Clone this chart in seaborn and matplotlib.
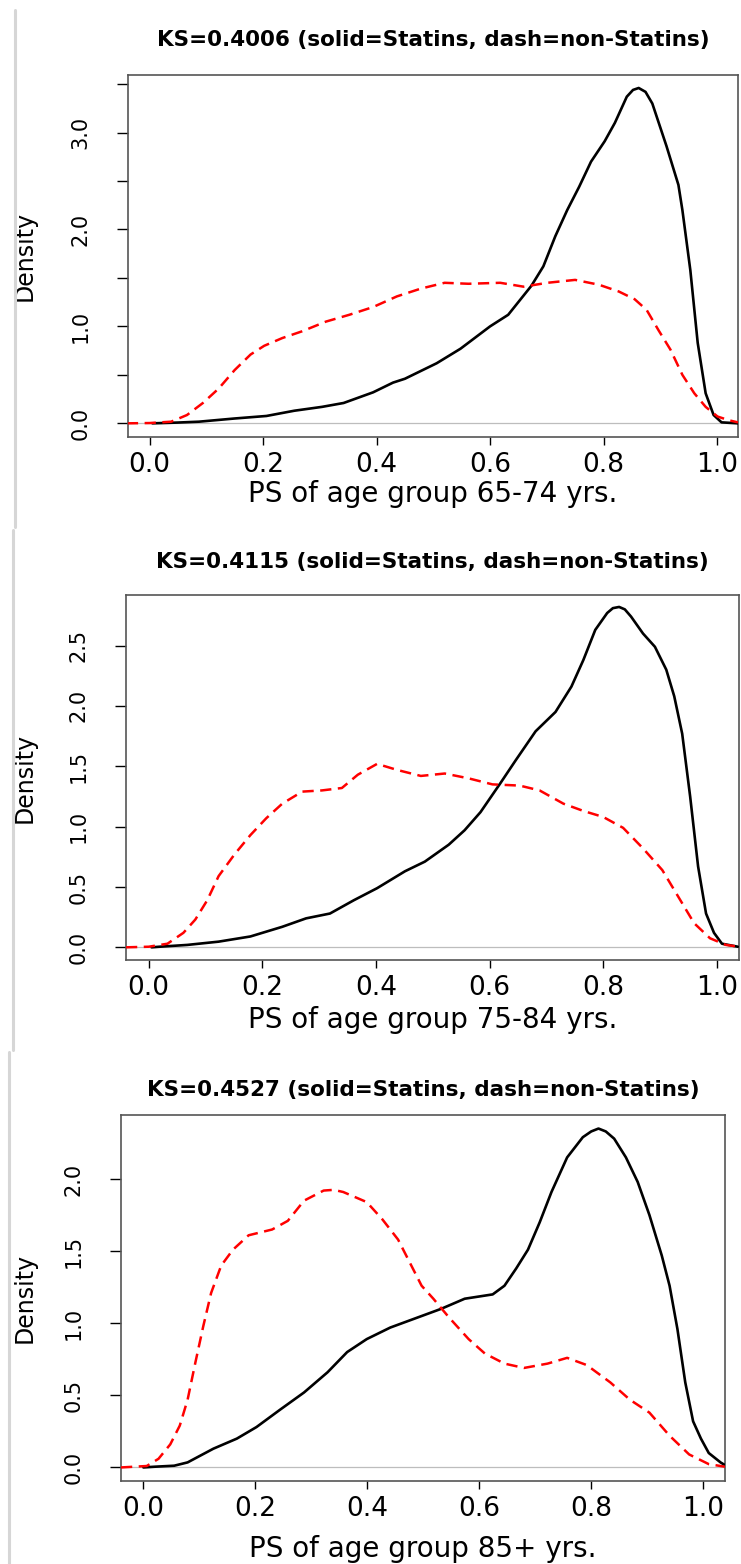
import matplotlib
matplotlib.use("Agg")
import matplotlib.pyplot as plt
import pandas as pd
import seaborn as sns
from matplotlib.lines import Line2D

# ---- text ----
titles = ["KS=0.4006 (solid=Statins, dash=non-Statins)",
          "KS=0.4115 (solid=Statins, dash=non-Statins)",
          "KS=0.4527 (solid=Statins, dash=non-Statins)"]
xlabels = ["PS of age group 65-74 yrs.",
           "PS of age group 75-84 yrs.",
           "PS of age group 85+ yrs."]
x_ticks = [0.0, 0.2, 0.4, 0.6, 0.8, 1.0]
x_ticklabels = ["0.0", "0.2", "0.4", "0.6", "0.8", "1.0"]
y_ticks_1 = [0.0, 0.5, 1.0, 1.5, 2.0, 2.5, 3.0, 3.5]
y_ticklabels_1 = ["0.0", "", "1.0", "", "2.0", "", "3.0", ""]
y_ticks_2 = [0.0, 0.5, 1.0, 1.5, 2.0, 2.5]
y_ticklabels_2 = ["0.0", "0.5", "1.0", "1.5", "2.0", "2.5"]
y_ticks_3 = [0.0, 0.5, 1.0, 1.5, 2.0]
y_ticklabels_3 = ["0.0", "0.5", "1.0", "1.5", "2.0"]

# ---- panel 1: 65-74 ----
stat1_x = [0.005, 0.05, 0.087, 0.15, 0.206, 0.255, 0.304, 0.342, 0.394, 0.429, 0.45, 0.464,
           0.506, 0.548, 0.600, 0.632, 0.673, 0.694, 0.715, 0.736, 0.757, 0.778, 0.802,
           0.820, 0.841, 0.852, 0.862, 0.874, 0.886, 0.911, 0.932, 0.939, 0.953, 0.966,
           0.980, 0.994, 1.008, 1.037]
stat1_y = [0.0, 0.008, 0.017, 0.05, 0.076, 0.13, 0.17, 0.21, 0.32, 0.42, 0.46, 0.50,
           0.62, 0.77, 1.0, 1.12, 1.42, 1.62, 1.93, 2.20, 2.44, 2.70, 2.91,
           3.10, 3.37, 3.44, 3.46, 3.42, 3.30, 2.86, 2.46, 2.20, 1.58, 0.83,
           0.31, 0.086, 0.01, 0.0]
non1_x = [-0.04, 0.0, 0.038, 0.066, 0.094, 0.122, 0.150, 0.178, 0.202, 0.234, 0.269, 0.311,
          0.352, 0.394, 0.436, 0.478, 0.520, 0.562, 0.618, 0.659, 0.701, 0.750, 0.792,
          0.827, 0.855, 0.876, 0.897, 0.918, 0.939, 0.960, 0.980, 1.001, 1.022, 1.037]
non1_y = [0.0, 0.003, 0.017, 0.086, 0.21, 0.36, 0.55, 0.71, 0.80, 0.88, 0.95, 1.05,
          1.12, 1.20, 1.31, 1.39, 1.45, 1.44, 1.45, 1.41, 1.45, 1.48, 1.43,
          1.36, 1.28, 1.17, 0.96, 0.76, 0.50, 0.31, 0.17, 0.07, 0.03, 0.01]

# ---- panel 2: 75-84 ----
stat2_x = [0.005, 0.019, 0.068, 0.123, 0.179, 0.235, 0.277, 0.319, 0.361, 0.402, 0.451,
           0.486, 0.528, 0.556, 0.584, 0.619, 0.646, 0.681, 0.716, 0.744, 0.765, 0.786,
           0.807, 0.817, 0.828, 0.838, 0.849, 0.870, 0.891, 0.911, 0.925, 0.939, 0.953,
           0.967, 0.981, 0.995, 1.009, 1.037]
stat2_y = [0.0, 0.005, 0.02, 0.047, 0.09, 0.17, 0.24, 0.28, 0.39, 0.49, 0.63,
           0.71, 0.85, 0.97, 1.12, 1.36, 1.55, 1.79, 1.95, 2.16, 2.38, 2.63,
           2.77, 2.81, 2.82, 2.80, 2.74, 2.60, 2.49, 2.30, 2.08, 1.77, 1.25,
           0.67, 0.28, 0.12, 0.03, 0.005]
non2_x = [-0.04, 0.0, 0.033, 0.061, 0.082, 0.103, 0.123, 0.151, 0.179, 0.207, 0.235, 0.270,
          0.305, 0.340, 0.368, 0.402, 0.437, 0.479, 0.521, 0.563, 0.605, 0.653, 0.688,
          0.730, 0.765, 0.800, 0.835, 0.870, 0.904, 0.932, 0.960, 0.988, 1.016, 1.039]
non2_y = [0.0, 0.005, 0.03, 0.12, 0.23, 0.39, 0.59, 0.77, 0.93, 1.07, 1.19, 1.29,
          1.30, 1.32, 1.43, 1.52, 1.47, 1.42, 1.44, 1.40, 1.35, 1.34, 1.30,
          1.19, 1.13, 1.08, 0.99, 0.82, 0.64, 0.42, 0.20, 0.075, 0.02, 0.005]

# ---- panel 3: 85+ ----
stat3_x = [0.0, 0.020, 0.055, 0.079, 0.125, 0.167, 0.202, 0.244, 0.287, 0.329, 0.364,
           0.399, 0.441, 0.483, 0.532, 0.574, 0.624, 0.645, 0.666, 0.687, 0.708, 0.729,
           0.757, 0.785, 0.800, 0.813, 0.826, 0.841, 0.862, 0.883, 0.904, 0.926, 0.940,
           0.954, 0.968, 0.982, 0.996, 1.010, 1.031, 1.039]
stat3_y = [0.0, 0.005, 0.012, 0.035, 0.13, 0.20, 0.28, 0.40, 0.52, 0.66, 0.80,
           0.89, 0.97, 1.03, 1.10, 1.17, 1.20, 1.26, 1.38, 1.51, 1.70, 1.91,
           2.15, 2.29, 2.33, 2.35, 2.33, 2.28, 2.15, 1.98, 1.75, 1.47, 1.26,
           0.96, 0.59, 0.32, 0.20, 0.10, 0.035, 0.016]
non3_x = [-0.04, 0.006, 0.027, 0.048, 0.065, 0.079, 0.093, 0.107, 0.121, 0.139, 0.160,
          0.188, 0.230, 0.258, 0.287, 0.322, 0.340, 0.357, 0.399, 0.427, 0.455, 0.476,
          0.497, 0.518, 0.546, 0.581, 0.610, 0.645, 0.680, 0.722, 0.757, 0.792, 0.834,
          0.869, 0.904, 0.940, 0.975, 1.010, 1.039]
non3_y = [0.0, 0.01, 0.06, 0.16, 0.29, 0.47, 0.73, 0.98, 1.21, 1.40, 1.51,
          1.61, 1.65, 1.71, 1.85, 1.92, 1.925, 1.91, 1.84, 1.72, 1.58, 1.42,
          1.26, 1.17, 1.04, 0.89, 0.79, 0.72, 0.69, 0.72, 0.76, 0.71, 0.59,
          0.47, 0.38, 0.22, 0.09, 0.023, 0.005]

sns.set_theme(style="ticks")
plt.rcParams["font.family"] = ["DejaVu Sans"]

W, H = 741, 1564
fig = plt.figure(figsize=(W / 100, H / 100), dpi=100, facecolor="white")


def rect(l, r, t, b):
    return [l / W, 1 - b / H, (r - l) / W, (b - t) / H]


# frame in pixels, limits, title y, xlabel offset
layout = [
    dict(box=(128, 738, 75, 437), xlim=(-0.038, 1.037), ylim=(-0.141, 3.594), ty=40, xl=-0.12),
    dict(box=(126, 739, 595, 960), xlim=(-0.040, 1.039), ylim=(-0.105, 2.919), ty=562, xl=-0.127),
    dict(box=(121, 725, 1115, 1481), xlim=(-0.040, 1.039), ylim=(-0.094, 2.444), ty=1090, xl=-0.147),
]
stat = [(stat1_x, stat1_y), (stat2_x, stat2_y), (stat3_x, stat3_y)]
non = [(non1_x, non1_y), (non2_x, non2_y), (non3_x, non3_y)]
yticks = [(y_ticks_1, y_ticklabels_1), (y_ticks_2, y_ticklabels_2), (y_ticks_3, y_ticklabels_3)]

for i in range(3):
    lay = layout[i]
    l, r, t, b = lay["box"]
    ax = fig.add_axes(rect(l, r, t, b))
    ax.axhline(0, color="#bdbdbd", lw=0.9, zorder=1)

    df_s = pd.DataFrame({"ps": stat[i][0], "density": stat[i][1]})
    df_n = pd.DataFrame({"ps": non[i][0], "density": non[i][1]})
    sns.lineplot(data=df_s, x="ps", y="density", ax=ax, color="black", lw=1.9,
                 estimator=None, sort=False, zorder=3)
    sns.lineplot(data=df_n, x="ps", y="density", ax=ax, color="#ff0000", lw=1.8,
                 estimator=None, sort=False, zorder=4)
    ax.lines[-1].set_dashes((4.5, 2.6))

    ax.set_xlim(*lay["xlim"])
    ax.set_ylim(*lay["ylim"])
    ax.set_xticks(x_ticks)
    ax.set_xticklabels(x_ticklabels)
    ax.set_yticks(yticks[i][0])
    ax.set_yticklabels(yticks[i][1], rotation=90, va="center")
    ax.tick_params(axis="x", direction="out", length=5.8, width=1, pad=5,
                   labelsize=19, color="black", labelcolor="black")
    ax.tick_params(axis="y", direction="out", length=8, width=1, pad=19,
                   labelsize=15, color="black", labelcolor="black")
    for sp in ax.spines.values():
        sp.set_visible(True)
        sp.set_color("#555555")
        sp.set_linewidth(1.2)

    ax.set_xlabel(xlabels[i], fontsize=20, color="black")
    ax.xaxis.set_label_coords(0.5, lay["xl"])
    ax.set_ylabel("Density", fontsize=17, color="black")
    ax.yaxis.set_label_coords((37 - l) / (r - l), 0.5)

    fig.text((l + r) / 2 / W, 1 - lay["ty"] / H, titles[i], ha="center", va="center",
             fontsize=15.5, fontweight="bold", color="black")

# light grey strips on the left edge of each pasted panel
for x, y0, y1 in [(15, 10, 527), (13, 530, 1050), (9, 1052, 1564)]:
    fig.add_artist(Line2D([x / W, x / W], [1 - y0 / H, 1 - y1 / H], transform=fig.transFigure,
                          color="#d6d6d6", lw=2.2))

fig.savefig("out.png", dpi=100, facecolor="white")
